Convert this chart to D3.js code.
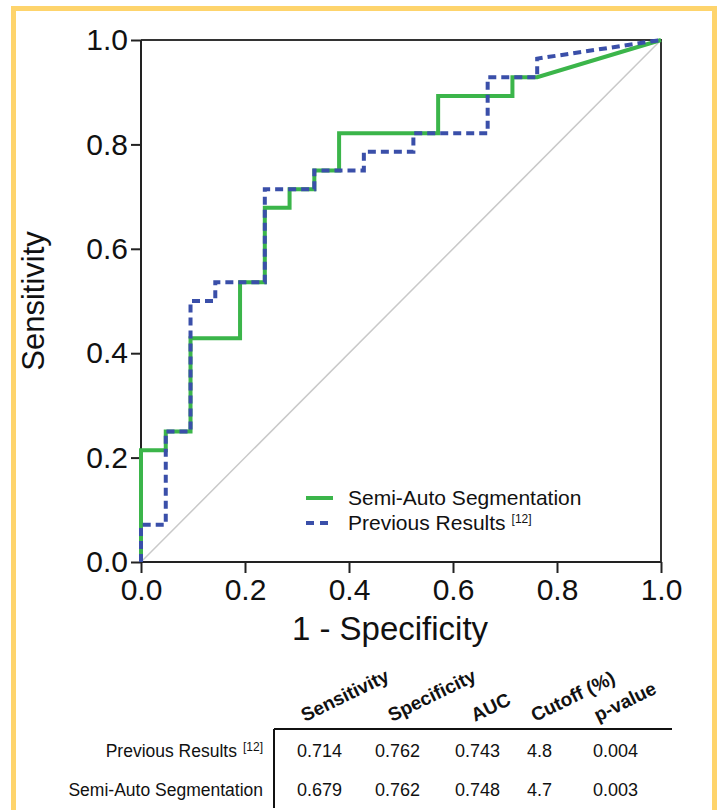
<!DOCTYPE html>
<html>
<head>
<meta charset="utf-8">
<script src="https://cdn.jsdelivr.net/npm/d3@7"></script>
<style>
  html, body { margin: 0; padding: 0; background: #fff; }
  svg { display: block; font-family: "Liberation Sans", Arial, sans-serif; }
</style>
</head>
<body>
<div id="chart"></div>
<script>
// ROC steps: 21 negatives, 28 positives
const semiAutoFpr  = [0, 0, 1/21, 1/21, 2/21, 2/21, 4/21, 4/21, 5/21, 5/21, 6/21, 6/21, 7/21, 7/21, 8/21, 8/21, 12/21, 12/21, 15/21, 15/21, 16/21, 1];
const semiAutoTpr  = [0, 6/28, 6/28, 7/28, 7/28, 12/28, 12/28, 15/28, 15/28, 19/28, 19/28, 20/28, 20/28, 21/28, 21/28, 23/28, 23/28, 25/28, 25/28, 26/28, 26/28, 1];
const previousFpr  = [0, 0, 1/21, 1/21, 2/21, 2/21, 3/21, 3/21, 5/21, 5/21, 7/21, 7/21, 9/21, 9/21, 11/21, 11/21, 14/21, 14/21, 16/21, 16/21, 1];
const previousTpr  = [0, 2/28, 2/28, 7/28, 7/28, 14/28, 14/28, 15/28, 15/28, 20/28, 20/28, 21/28, 21/28, 22/28, 22/28, 23/28, 23/28, 26/28, 26/28, 27/28, 1];

const axisTicks = [0, 0.2, 0.4, 0.6, 0.8, 1.0];

const tableColumns = ['Sensitivity', 'Specificity', 'AUC', 'Cutoff (%)', 'p-value'];
const tableRows = ['Previous Results', 'Semi-Auto Segmentation'];
const tableRowRefs = ['[12]', ''];
const previousStats = ['0.714', '0.762', '0.743', '4.8', '0.004'];
const semiAutoStats = ['0.679', '0.762', '0.748', '4.7', '0.003'];

const GREEN = '#3bb54a';
const BLUE = '#3a4fa9';

const width = 722, height = 810;
const svg = d3.select('#chart').append('svg')
  .attr('width', width)
  .attr('height', height);

// 外框
svg.append('rect')
  .attr('x', 13.5).attr('y', 8.5)
  .attr('width', 701).attr('height', 830)
  .attr('fill', 'none')
  .attr('stroke', '#fed46c')
  .attr('stroke-width', 5);

const plot = { left: 141, top: 40, right: 661, bottom: 562 };

const x = d3.scaleLinear().domain([0, 1]).range([plot.left, plot.right]);
const y = d3.scaleLinear().domain([0, 1]).range([plot.bottom, plot.top]);

// 對角線
svg.append('line')
  .attr('x1', x(0)).attr('y1', y(0))
  .attr('x2', x(1)).attr('y2', y(1))
  .attr('stroke', '#c9c9c9')
  .attr('stroke-width', 1.5);

// 邊框 (上、右)
svg.append('path')
  .attr('d', `M${x(0)},${y(1)}H${x(1)}V${y(0)}`)
  .attr('fill', 'none')
  .attr('stroke', '#333')
  .attr('stroke-width', 2);

// 座標軸
const xAxis = d3.axisBottom(x).tickValues(axisTicks).tickFormat(d3.format('.1f')).tickSize(11).tickPadding(5);
const yAxis = d3.axisLeft(y).tickValues(axisTicks).tickFormat(d3.format('.1f')).tickSize(10).tickPadding(3);

const xG = svg.append('g').attr('transform', `translate(0,${plot.bottom})`).call(xAxis);
const yG = svg.append('g').attr('transform', `translate(${plot.left},0)`).call(yAxis);

[xG, yG].forEach(g => {
  g.select('.domain').attr('stroke', '#222').attr('stroke-width', 2);
  g.selectAll('.tick line').attr('stroke', '#222').attr('stroke-width', 2);
  g.selectAll('.tick text').attr('fill', '#111').style('font-size', '30px');
});
xG.select('.domain').attr('d', `M${x(0)},0H${x(1)}`);
yG.select('.domain').attr('d', `M0,${y(0)}V${y(1)}`);
xG.selectAll('.tick text').attr('dy', '0.72em');

// 軸標題
svg.append('text')
  .attr('x', 390)
  .attr('y', 640)
  .attr('text-anchor', 'middle')
  .style('font-size', '33px')
  .attr('fill', '#111')
  .text('1 - Specificity');

svg.append('text')
  .attr('transform', `translate(44,${(plot.top + plot.bottom) / 2}) rotate(-90)`)
  .attr('text-anchor', 'middle')
  .style('font-size', '31px')
  .attr('fill', '#111')
  .text('Sensitivity');

// ROC 曲線
const line = d3.line().x(d => x(d[0])).y(d => y(d[1]));

svg.append('path')
  .datum(d3.zip(semiAutoFpr, semiAutoTpr))
  .attr('d', line)
  .attr('fill', 'none')
  .attr('stroke', GREEN)
  .attr('stroke-width', 4);

svg.append('path')
  .datum(d3.zip(previousFpr, previousTpr))
  .attr('d', line)
  .attr('fill', 'none')
  .attr('stroke', BLUE)
  .attr('stroke-width', 4)
  .attr('stroke-dasharray', '8,5');

// 圖例
const legend = svg.append('g').attr('transform', 'translate(306,498)');
const legendItems = [
  { label: 'Semi-Auto Segmentation', ref: '', color: GREEN, dash: null },
  { label: 'Previous Results', ref: '[12]', color: BLUE, dash: '8,6' }
];
legendItems.forEach((item, i) => {
  const row = legend.append('g').attr('transform', `translate(0,${i * 25})`);
  row.append('line')
    .attr('x1', 0).attr('x2', 27)
    .attr('stroke', item.color)
    .attr('stroke-width', 4)
    .attr('stroke-dasharray', item.dash);
  const t = row.append('text')
    .attr('x', 42).attr('y', 7)
    .style('font-size', '21px')
    .attr('fill', '#111')
    .text(item.label);
  if (item.ref) {
    t.append('tspan').attr('dx', 6).attr('dy', -7).style('font-size', '12px').text(item.ref);
  }
});

// 表格
const colX = d3.scaleOrdinal().domain(tableColumns).range([297, 375, 455, 527, 593]);
const headerOffset = [8, 17, 20, 8, 5];

const table = svg.append('g');
table.selectAll('text.header')
  .data(tableColumns)
  .join('text')
  .attr('class', 'header')
  .attr('transform', (d, i) => `translate(${colX(d) + headerOffset[i]},722) rotate(-26)`)
  .style('font-size', '19px')
  .style('font-weight', 'bold')
  .attr('fill', '#111')
  .text(d => d);

table.append('path')
  .attr('d', 'M274,729H672M274,729V808')
  .attr('fill', 'none')
  .attr('stroke', '#111')
  .attr('stroke-width', 2);

const rowY = [757, 796];
[previousStats, semiAutoStats].forEach((vals, r) => {
  table.selectAll(`text.v${r}`)
    .data(vals)
    .join('text')
    .attr('class', `v${r}`)
    .attr('x', (d, i) => colX(tableColumns[i]))
    .attr('y', rowY[r])
    .style('font-size', '18px')
    .attr('fill', '#111')
    .text(d => d);
});

tableRows.forEach((name, r) => {
  const t = table.append('text')
    .attr('x', 263)
    .attr('y', rowY[r])
    .attr('text-anchor', 'end')
    .style('font-size', '17.5px')
    .attr('fill', '#111')
    .text(name);
  if (tableRowRefs[r]) {
    t.append('tspan').attr('dx', 6).attr('dy', -6).style('font-size', '12px').text(tableRowRefs[r]);
  }
});
</script>
</body>
</html>
